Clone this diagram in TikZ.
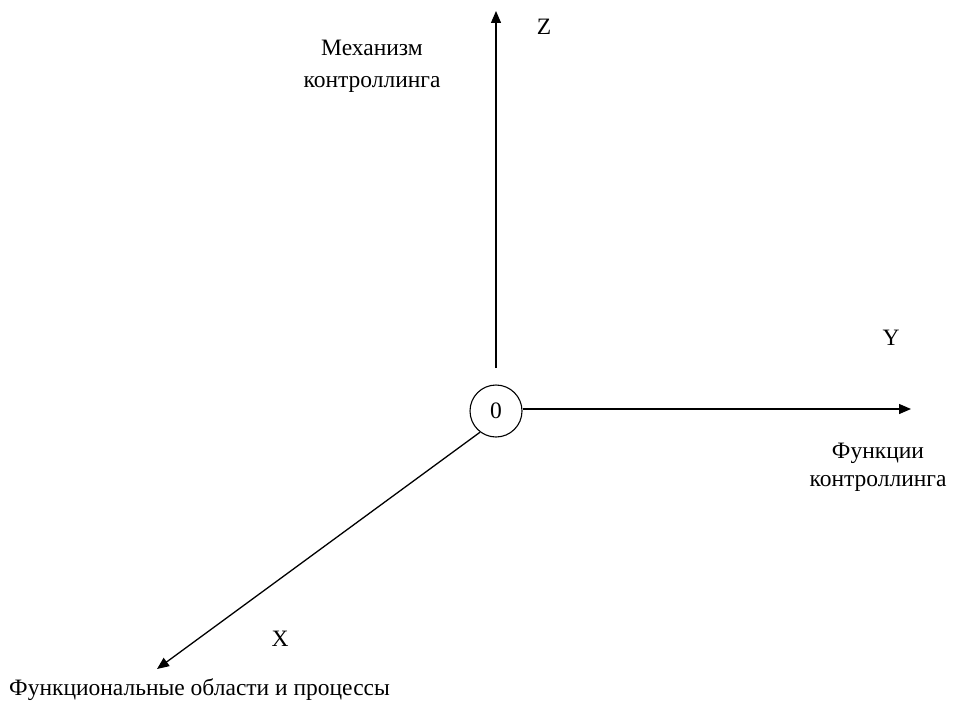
\documentclass[tikz,border=0pt]{standalone}
\usepackage{fontspec}
\setmainfont{Liberation Serif}
\usetikzlibrary{arrows.meta}
\begin{document}
\begin{tikzpicture}[x=1pt,y=-1pt,
  axis/.style={draw=black,line width=1.3pt,-{Triangle[length=12pt,width=10pt]}},
  lbl/.style={font=\fontsize{23.5}{32}\selectfont,inner sep=0pt,align=center}]
\useasboundingbox (0,0) rectangle (955,709);
\node[circle,draw,line width=1.1pt,minimum size=52pt,inner sep=0pt,font=\fontsize{23.5}{28}\selectfont] (o) at (496,411) {0};
\coordinate (zb) at (496,368);
\coordinate (zt) at (496,11);
\coordinate (yt) at (911,409);
\coordinate (xt) at (157,669);
\draw[axis] (zb) -- (zt);
\draw[axis] (o.east |- yt) -- (yt);
\draw[axis] (o.-127) -- (xt);
\node[lbl] (z) at (544,27) {Z};
\node[lbl] (zl) at (372,66) {Механизм\\контроллинга};
\node[lbl] (y) at (891,338) {Y};
\node[lbl,font=\fontsize{23.5}{28}\selectfont] (yl) at (878,467) {Функции\\контроллинга};
\node[lbl] (x) at (280,639) {X};
\node[lbl,anchor=west] (xl) at (9,690) {Функциональные области и процессы};
\end{tikzpicture}
\end{document}
